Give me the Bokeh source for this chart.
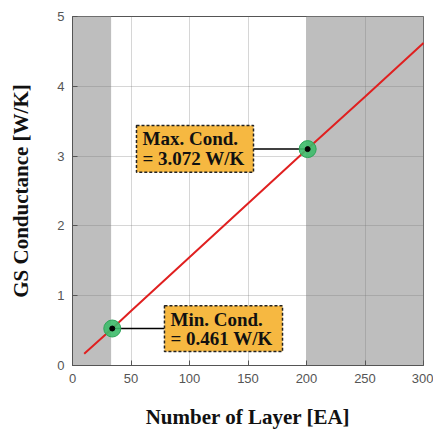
from bokeh.plotting import figure
from bokeh.models import Range1d, FixedTicker, ColumnDataSource
from bokeh.core.properties import value
from bokeh.embed import file_html
from bokeh.resources import INLINE

# data
layers = [10, 34, 50, 100, 150, 200, 250, 300]
cond = [0.17, 0.53, 0.78, 1.55, 2.32, 3.09, 3.85, 4.62]

band_left = [0, 200]
band_right = [33, 300]

pt_x = [34, 201]
pt_y = [0.53, 3.10]

box_left = [54.7, 78.6]
box_right = [154.7, 179.5]
box_bottom = [2.77, 0.20]
box_top = [3.44, 0.857]

lbl_line1 = ["Max. Cond.", "Min. Cond."]
lbl_line2 = ["= 3.072 W/K", "= 0.461 W/K"]

x_ticks = [0, 50, 100, 150, 200, 250, 300]
y_ticks = [0, 1, 2, 3, 4, 5]

p = figure(width=433, height=431, output_backend="svg", toolbar_location=None,
           x_range=Range1d(0, 300), y_range=Range1d(0, 5),
           min_border_left=72, min_border_right=10, min_border_top=16, min_border_bottom=65)

p.background_fill_color = "white"
p.border_fill_color = "white"
p.outline_line_color = "#555555"
p.outline_line_width = 1

for g in (p.xgrid, p.ygrid):
    g.grid_line_color = "#777777"
    g.grid_line_alpha = 0.3
    g.grid_line_width = 1
    g.level = "glyph"

p.xaxis.ticker = FixedTicker(ticks=x_ticks)
p.yaxis.ticker = FixedTicker(ticks=y_ticks)

for ax in (p.xaxis, p.yaxis):
    ax.axis_line_color = "#555555"
    ax.major_tick_in = 5
    ax.major_tick_out = 0
    ax.minor_tick_line_color = None
    ax.major_tick_line_color = "#555555"
    ax.major_label_text_font = "Liberation Sans"
    ax.major_label_text_font_size = "13px"
    ax.major_label_text_color = "#555555"
    ax.axis_label_text_font = "Liberation Serif"
    ax.axis_label_text_font_style = "bold"
    ax.axis_label_text_font_size = "21px"
    ax.axis_label_text_color = "#111111"

p.xaxis.axis_label = "Number of Layer [EA]"
p.yaxis.axis_label = "GS Conductance [W/K]"
p.xaxis.major_label_standoff = 8
p.yaxis.major_label_standoff = 8
p.xaxis.axis_label_standoff = 19
p.yaxis.axis_label_standoff = 21

# gray bands
p.quad(left=band_left, right=band_right, bottom=0, top=5,
       fill_color="#bebebe", line_color=None, level="underlay")

# red line
p.line(layers, cond, line_color="#e02020", line_width=2, level="annotation")

# connectors
p.segment(x0=[box_right[0], pt_x[0]], y0=[pt_y[1], pt_y[0]],
          x1=[pt_x[1], box_left[1]], y1=[pt_y[1], pt_y[0]],
          line_color="black", line_width=1.5, level="annotation")

# markers
p.scatter(pt_x, pt_y, size=17, fill_color="#3dbb6a", line_color="#2fa55a",
          fill_alpha=0.9, level="annotation")
p.scatter(pt_x, pt_y, size=5, fill_color="black", line_color="black", level="annotation")

# annotation boxes
p.quad(left=box_left, right=box_right, bottom=box_bottom, top=box_top,
       fill_color="#f6b841", line_color="#222222", line_dash="3 2", line_width=1.5,
       level="annotation")

src = ColumnDataSource(dict(x=box_left, top=box_top, bot=box_bottom, l1=lbl_line1, l2=lbl_line2))
p.text(x="x", y="top", text="l1", source=src, x_offset=6, y_offset=3,
       text_font=value("Liberation Serif"), text_font_style="bold",
       text_font_size="19px", text_color="#111111", text_baseline="top", text_align="left",
       level="annotation")
p.text(x="x", y="bot", text="l2", source=src, x_offset=6, y_offset=-3,
       text_font=value("Liberation Serif"), text_font_style="bold",
       text_font_size="19px", text_color="#111111", text_baseline="bottom", text_align="left",
       level="annotation")

open("out.html", "w").write(file_html(p, INLINE))
